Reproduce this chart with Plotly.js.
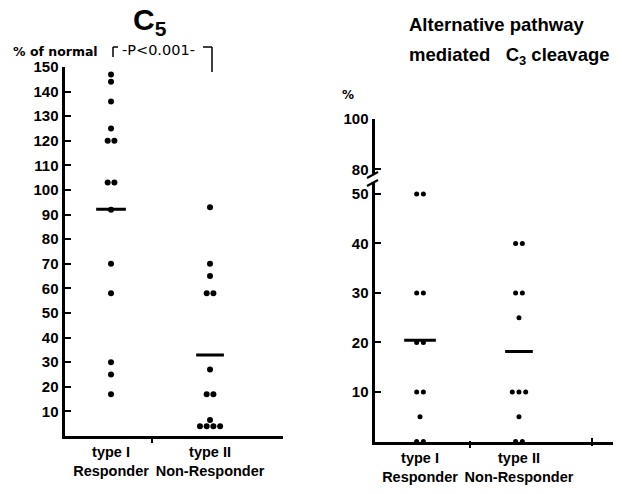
<!DOCTYPE html>
<html>
<head>
<meta charset="utf-8">
<script src="https://cdn.plot.ly/plotly-3.0.1.min.js"></script>
<style>html,body{margin:0;padding:0;background:#fff;}#chart{width:622px;height:494px;}</style>
</head>
<body>
<div id="chart"></div>
<script>
// ---- data ----
const categories = ['type I', 'type II'];
const categorySub = ['Responder', 'Non-Responder'];
const c5TypeI = [147, 144, 136, 125, 120, 120, 103, 103, 92, 70, 58, 30, 25, 17];
const c5TypeII = [93, 70, 65, 58, 58, 27, 17, 17, 6.5, 4, 4, 4, 4];
const c3TypeI = [50, 50, 30, 30, 20, 20, 10, 10, 5, 0, 0];
const c3TypeII = [40, 40, 30, 30, 25, 10, 10, 10, 5, 0, 0];
const c5Ticks = [10, 20, 30, 40, 50, 60, 70, 80, 90, 100, 110, 120, 130, 140, 150];
const c3LowTicks = [10, 20, 30, 40, 50];
const c3HighTicks = [80, 100];

// ---- helpers ----
const W = 622, H = 494;
const px = x => x / W, py = y => 1 - y / H;
const GAP = 0.068;

function dotPositions(values, center) {
  const counts = {}, seen = {};
  values.forEach(v => counts[v] = (counts[v] || 0) + 1);
  return values.map(v => {
    const k = seen[v] = (seen[v] === undefined ? 0 : seen[v] + 1);
    return center + (k - (counts[v] - 1) / 2) * GAP;
  });
}
const mean = a => a.reduce((s, v) => s + v, 0) / a.length;

function dots(values, center, xa, ya, size) {
  return {x: dotPositions(values, center), y: values, xaxis: xa, yaxis: ya, type: 'scatter',
    mode: 'markers', marker: {color: '#000', size: size}, cliponaxis: false, hoverinfo: 'y'};
}
function meanLine(values, center, xa, ya, half) {
  const m = mean(values);
  return {x: [center - half, center + half], y: [m, m], xaxis: xa, yaxis: ya, type: 'scatter',
    mode: 'lines', line: {color: '#000', width: 3}, cliponaxis: false, hoverinfo: 'skip'};
}

const traces = [
  dots(c5TypeI, 1, 'x', 'y', 6), dots(c5TypeII, 2, 'x', 'y', 6),
  meanLine(c5TypeI, 1, 'x', 'y', 0.15), meanLine(c5TypeII, 2, 'x', 'y', 0.14),
  dots(c3TypeI, 1, 'x2', 'y2', 5), dots(c3TypeII, 2, 'x2', 'y2', 5),
  meanLine(c3TypeI, 1, 'x2', 'y2', 0.16), meanLine(c3TypeII, 2, 'x2', 'y2', 0.14),
  {x: [null], y: [null], xaxis: 'x2', yaxis: 'y3', type: 'scatter', mode: 'markers', hoverinfo: 'skip'}
];

const tickLabels = categories.map((c, i) => c + '<br>' + categorySub[i]);
const numFont = {family: 'Liberation Sans, Arial, sans-serif', size: 15, color: '#000', weight: 700};
const catFont = {family: 'Liberation Sans Narrow, Arial Narrow, sans-serif', size: 14.5, color: '#000', weight: 700};

const baseX = {showline: true, linewidth: 3, linecolor: '#000', showgrid: false, zeroline: false,
  tickvals: [1, 2], ticktext: tickLabels, ticks: '', tickfont: catFont, fixedrange: true, ticklabelstandoff: 1};
const baseY = {showline: true, linewidth: 3, linecolor: '#000', showgrid: false, zeroline: false,
  ticks: 'inside', ticklen: 6, tickwidth: 2, tickcolor: '#000', tickfont: numFont, fixedrange: true};

const line = (x0, y0, x1, y1, w) => ({type: 'line', xref: 'paper', yref: 'paper',
  x0: px(x0), y0: py(y0), x1: px(x1), y1: py(y1), line: {color: '#000', width: w || 1.5}});
const note = (text, x, y, xanchor, font) => ({text: text, x: px(x), y: py(y), xref: 'paper', yref: 'paper',
  showarrow: false, xanchor: xanchor, yanchor: 'middle', font: font});

const layout = {
  width: W, height: H, margin: {l: 0, r: 0, t: 0, b: 0},
  paper_bgcolor: '#fff', plot_bgcolor: '#fff', showlegend: false,
  xaxis: Object.assign({}, baseX, {domain: [px(64.5), px(283)], range: [0.53, 2.737], anchor: 'y'}),
  yaxis: Object.assign({}, baseY, {domain: [py(436), py(67)], range: [0, 150], anchor: 'x', tickvals: c5Ticks}),
  xaxis2: Object.assign({}, baseX, {domain: [px(374.5), px(613)], range: [0.54, 2.95], anchor: 'y2'}),
  yaxis2: Object.assign({}, baseY, {domain: [py(441.5), py(182)], range: [0, 52.4], anchor: 'x2', tickvals: c3LowTicks}),
  yaxis3: Object.assign({}, baseY, {domain: [py(175), py(119)], range: [77.8, 100], anchor: 'x2', tickvals: c3HighTicks}),
  annotations: [
    note('<b>C<sub>5</sub></b>', 150, 21, 'center', {family: 'Liberation Sans, Arial, sans-serif', size: 30, color: '#000'}),
    note('% of normal', 11, 51, 'left', {family: 'DejaVu Sans, sans-serif', size: 12.5, color: '#000', weight: 700}),
    note('-P&lt;0.001-', 158, 50, 'center', {family: 'DejaVu Sans, sans-serif', size: 14.5, color: '#000'}),
    note('Alternative pathway', 407, 25, 'left', {family: 'Liberation Sans, Arial, sans-serif', size: 18.5, color: '#000', weight: 700}),
    note('mediated\u00a0\u00a0 C<sub>3</sub> cleavage', 407, 56, 'left', {family: 'Liberation Sans, Arial, sans-serif', size: 18.5, color: '#000', weight: 700}),
    note('%', 348, 95, 'center', {family: 'DejaVu Sans, sans-serif', size: 12, color: '#000', weight: 700})
  ],
  shapes: [
    // P-value bracket
    line(113, 47, 118, 47), line(113, 47, 113, 57),
    line(203, 47, 212, 47), line(212, 47, 212, 72),
    // odd x-axis ticks
    line(152, 436, 152, 443, 2), line(470, 441, 470, 448, 2), line(592, 438, 592, 446, 2),
    // axis break slashes
    line(367, 178, 378, 172, 2), line(367, 186, 378, 180, 2)
  ]
};

Plotly.newPlot('chart', traces, layout, {staticPlot: true});
</script>
</body>
</html>
